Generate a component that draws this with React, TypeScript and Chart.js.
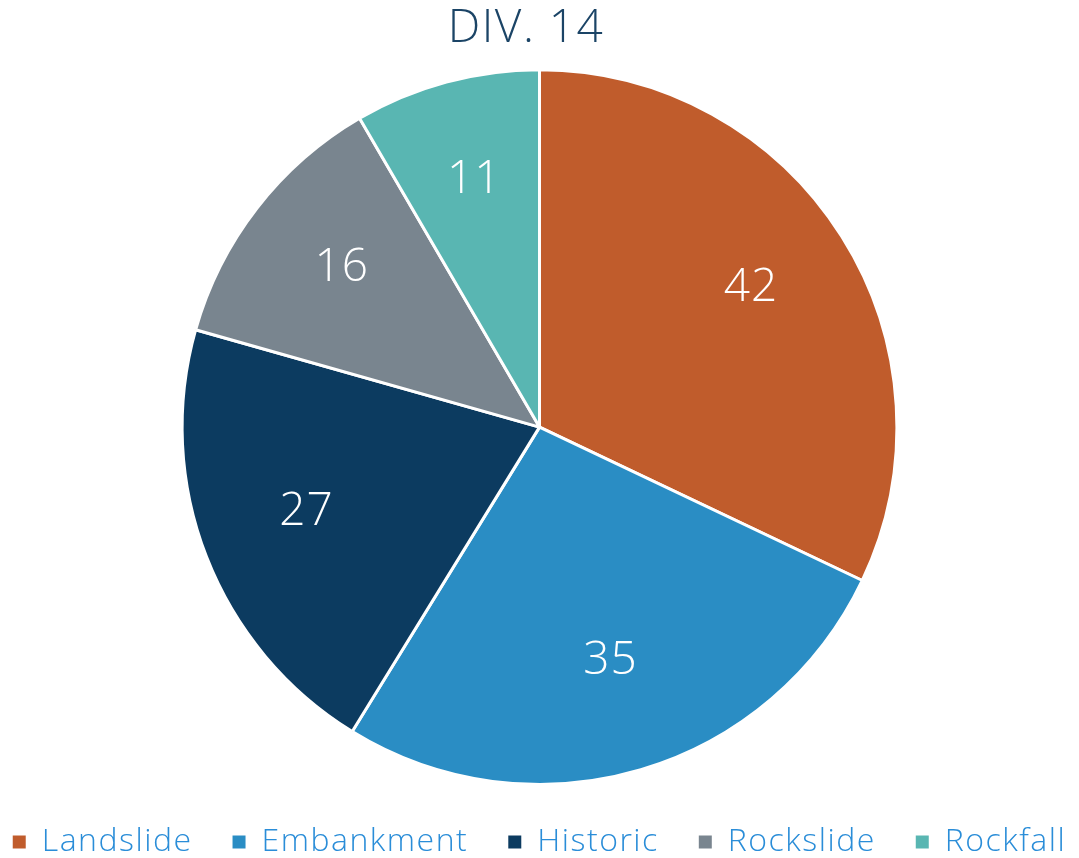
import React, { useEffect, useRef } from "react";
import { Chart, registerables } from "chart.js";

Chart.register(...registerables);

const categories = ["Landslide", "Embankment", "Historic", "Rockslide", "Rockfall"];
const values = [42, 35, 27, 16, 11];
const colors = ["#C05C2C", "#2A8DC4", "#0C3B60", "#79858F", "#59B6B2"];
const titleText = "DIV. 14";

const FONT = "'Open Sans', 'Noto Sans', sans-serif";
const LABEL_SIZE = 46;

const spacing = {
  id: "spacing",
  beforeLayout(chart: any) {
    (chart.ctx as any).letterSpacing = "1.5px";
  },
  beforeDraw(chart: any) {
    (chart.ctx as any).letterSpacing = "1.5px";
  },
};

const valueLabels = {
  id: "valueLabels",
  afterDatasetsDraw(chart: any) {
    const ctx = chart.ctx;
    const meta = chart.getDatasetMeta(0);
    ctx.save();
    ctx.letterSpacing = "1px";
    ctx.fillStyle = "#ffffff";
    ctx.font = `300 ${LABEL_SIZE}px ${FONT}`;
    ctx.textAlign = "center";
    ctx.textBaseline = "alphabetic";
    meta.data.forEach((arc: any, i: number) => {
      const { x, y, startAngle, endAngle, outerRadius } = arc.getProps(
        ["x", "y", "startAngle", "endAngle", "outerRadius"],
        true
      );
      const mid = (startAngle + endAngle) / 2;
      const r = outerRadius * 0.7;
      ctx.fillText(
        String(values[i]),
        x + Math.cos(mid) * r,
        y + Math.sin(mid) * r + LABEL_SIZE * 0.16
      );
    });
    ctx.restore();
  },
};

export default function App() {
  const ref = useRef<HTMLCanvasElement>(null);
  useEffect(() => {
    if (!ref.current) return;
    const baseGen = (Chart as any).overrides.pie.plugins.legend.labels.generateLabels;
    const chart = new Chart(ref.current, {
      type: "pie",
      data: {
        labels: categories,
        datasets: [
          {
            data: values,
            backgroundColor: colors,
            borderColor: "#ffffff",
            borderWidth: 3,
          },
        ],
      },
      options: {
        animation: false,
        responsive: false,
        layout: { padding: { top: 0, left: -40, right: -40, bottom: -10 } },
        plugins: {
          title: {
            display: true,
            text: titleText + "  ",
            color: "#1B4466",
            font: { family: FONT, size: 46, weight: "300" as any },
            padding: { top: 1, bottom: 12 },
          },
          legend: {
            position: "bottom",
            labels: {
              color: "#2A8DD8",
              boxWidth: 13,
              boxHeight: 13,
              padding: 40,
              font: { family: FONT, size: 32, weight: "300" as any },
              generateLabels: (c: any) =>
                baseGen(c).map((l: any) => ({ ...l, lineWidth: 0, strokeStyle: l.fillStyle })),
            },
          },
          tooltip: { enabled: false },
        },
      },
      plugins: [spacing, valueLabels],
    });
    return () => chart.destroy();
  }, []);
  return (
    <div style={{ position: "fixed", left: 0, top: 0, width: 1079, height: 858, background: "#fff" }}>
      <canvas ref={ref} width={1079} height={858} />
    </div>
  );
}
